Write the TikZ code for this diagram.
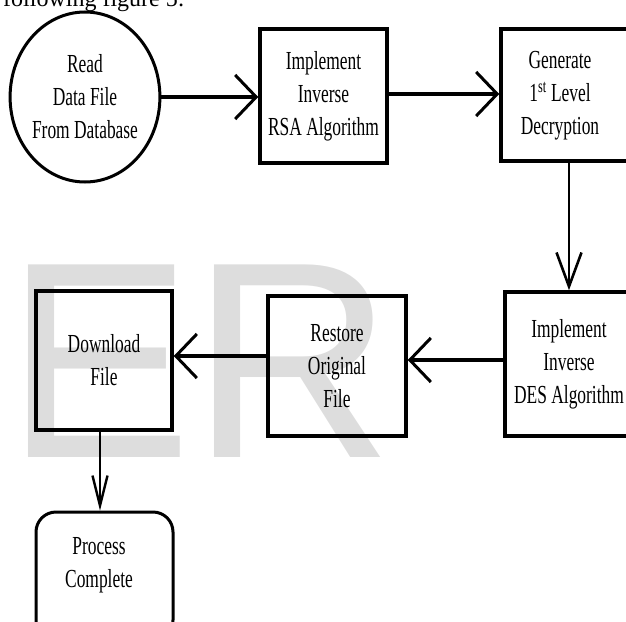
\documentclass[tikz,border=0pt]{standalone}
\usepackage{fontspec}
\setmainfont{Liberation Serif}
\newfontfamily\narrowserif[FakeStretch=0.67]{Liberation Serif}
\newfontfamily\markfont{Liberation Sans}
\usetikzlibrary{arrows.meta,shapes.geometric}
\definecolor{markgray}{RGB}{221,221,221}

\begin{document}
\begin{tikzpicture}[x=1pt,y=-1pt,
  box/.style={draw, rectangle, line width=3.5pt, inner sep=0pt},
  lbl/.style={font=\narrowserif\fontsize{26}{33}\selectfont, align=center, inner sep=0pt},
  hbar/.style={line width=3.8pt, -{Straight Barb[length=21pt,width=44pt,line width=3pt]}},
  vbar/.style={line width=2.6pt, -{Straight Barb[length=34pt,width=25pt,line width=2.6pt]}},
  vbarnarrow/.style={line width=2.6pt, -{Straight Barb[length=30pt,width=15pt,line width=2.4pt]}}]

\useasboundingbox (0,0) rectangle (626,621);
\clip (0,0) rectangle (626,621);

% background watermark
\node[anchor=base west, inner sep=0pt, text=markgray,
      font=\markfont\fontsize{280}{280}\selectfont] (wm) at (5,457) {ER};

% running text above the figure
\node[anchor=base west, inner sep=0pt, font=\fontsize{24}{28}\selectfont] (cap) at (3,6) {following figure 5:};

% top row
\node[draw, ellipse, line width=3pt, minimum width=145pt, minimum height=170pt, lbl]
  (c1) at (85,97) {Read\\Data File\\From Database};
\node[box, lbl, minimum width=127pt, minimum height=134pt]
  (b2) at (323.5,96) {Implement\\Inverse\\RSA Algorithm};
\node[box, minimum width=136pt, minimum height=132pt] (b3) at (569,95) {};
\node[lbl] (t3) at (560,96) {Generate\\1\textsuperscript{st} Level\\Decryption};

% middle row
\node[box, lbl, minimum width=128pt, minimum height=144pt]
  (des) at (569,364) {Implement\\Inverse\\DES Algorithm};
\node[box, lbl, minimum width=138pt, minimum height=140pt]
  (rest) at (337,366) {Restore\\Original\\File};
\node[box, lbl, minimum width=136pt, minimum height=139pt]
  (dl) at (104,360.5) {Download\\File};

% final step
\node[draw, rectangle, rounded corners=20pt, line width=3pt, minimum width=137pt, minimum height=128pt]
  (proc) at (104.5,576) {};
\node[lbl] (tp) at (99,565) {Process\\Complete};

% connectors
\draw[hbar] (c1.east) -- (c1.east -| b2.west);
\draw[hbar] ([yshift=2pt]b2.east) -- ([yshift=2pt]b2.east -| b3.west);
\draw[vbar] (b3.south) -- (des.north);
\draw[hbar] ([yshift=4pt]des.west) -- ([yshift=4pt]des.west -| rest.east);
\draw[hbar] ([yshift=10pt]rest.west) -- ([yshift=10pt]rest.west -| dl.east);
\draw[vbarnarrow] ([xshift=-4pt]dl.south) -- ([xshift=-4pt]dl.south |- proc.north);
\end{tikzpicture}
\end{document}
